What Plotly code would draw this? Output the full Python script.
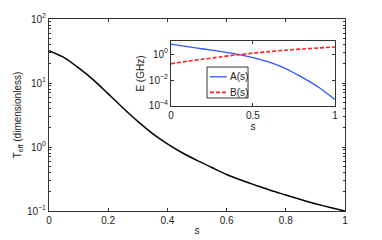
import plotly.graph_objects as go

# Main curve: effective temperature vs s
s_main = [0, 0.05, 0.1, 0.15, 0.2, 0.25, 0.3, 0.35, 0.4, 0.45, 0.5,
          0.55, 0.6, 0.65, 0.7, 0.75, 0.8, 0.85, 0.9, 0.95, 1.0]
t_eff = [32, 25.1, 17.2, 11.2, 6.76, 4.07, 2.51, 1.62, 1.12, 0.813, 0.617,
         0.479, 0.372, 0.302, 0.251, 0.209, 0.178, 0.151, 0.130, 0.1135, 0.1]

# Inset: annealing schedule
s_inset = [0, 0.1, 0.2, 0.3, 0.4, 0.5, 0.6, 0.7, 0.8, 0.9, 1.0]
a_vals = [5.9, 3.8, 2.45, 1.6, 1.0, 0.54, 0.24, 0.076, 0.016, 0.0028, 0.00032]
b_vals = [0.18, 0.28, 0.41, 0.6, 0.87, 1.17, 1.55, 2.0, 2.45, 2.95, 3.47]
legend_names = ["A(s)", "B(s)"]

main_xticks = [0, 0.2, 0.4, 0.6, 0.8, 1]
main_xlabels = ["0", "0.2", "0.4", "0.6", "0.8", "1"]
main_yticks = [0.1, 1, 10, 100]
main_ylabels = ["10<sup>\u22121</sup>", "10<sup>0</sup>", "10<sup>1</sup>", "10<sup>2</sup>"]
inset_xticks = [0, 0.5, 1]
inset_xlabels = ["0", "0.5", "1"]
inset_yticks = [1e-4, 1e-2, 1]
inset_ylabels = ["10<sup>\u22124</sup>", "10<sup>\u22122</sup>", "10<sup>0</sup>"]

def minor_vals(lo, hi):
    out = []
    for e in range(lo, hi):
        for m in range(2, 10):
            out.append(m * 10 ** e)
    return out

FONT = "Liberation Sans, Arial, sans-serif"
AX = "#333333"
BLUE = "#3355ff"
RED = "#ff2222"

fig = go.Figure()
fig.add_trace(go.Scatter(x=s_main, y=t_eff, mode="lines", showlegend=False,
                         line=dict(color="black", width=1.5, shape="spline", smoothing=0.6),
                         xaxis="x", yaxis="y"))
fig.add_trace(go.Scatter(x=s_inset, y=a_vals, mode="lines", name=legend_names[0], showlegend=False,
                         line=dict(color=BLUE, width=1.3, shape="spline", smoothing=0.6),
                         xaxis="x2", yaxis="y2"))
fig.add_trace(go.Scatter(x=s_inset, y=b_vals, mode="lines", name=legend_names[1], showlegend=False,
                         line=dict(color=RED, width=1.6, dash="4px,2px", shape="spline", smoothing=0.6),
                         xaxis="x2", yaxis="y2"))

common = dict(showgrid=False, zeroline=False, showline=True, linecolor=AX, linewidth=1,
              ticks="inside", mirror="ticks", tickcolor=AX, ticklen=3, automargin=False,
              tickfont=dict(size=10, color="#222", family=FONT))

# Manual compact legend inside the inset (domain coords of inset axes)
ref = dict(xref="x2 domain", yref="y2 domain")
fig.add_shape(type="rect", x0=0.22, x1=0.47, y0=0.123, y1=0.6,
              fillcolor="white", line=dict(color=AX, width=1), layer="above", **ref)
fig.add_shape(type="line", x0=0.238, x1=0.34, y0=0.45, y1=0.45,
              line=dict(color=BLUE, width=1.3), layer="above", **ref)
fig.add_shape(type="line", x0=0.238, x1=0.34, y0=0.21, y1=0.21,
              line=dict(color=RED, width=1.6, dash="4px,2px"), layer="above", **ref)
for name, yy in zip(legend_names, [0.45, 0.21]):
    fig.add_annotation(text=name, x=0.345, y=yy, xanchor="left", yanchor="middle",
                       showarrow=False, font=dict(size=10, family=FONT, color="#222"), **ref)

fig.update_layout(
    width=374, height=232,
    margin=dict(l=41, r=37, t=11, b=29, autoexpand=False),
    paper_bgcolor="white", plot_bgcolor="white",
    font=dict(family=FONT, size=10, color="#222"),
    showlegend=False,
    xaxis=dict(domain=[0, 1], range=[0, 1], tickmode="array", tickvals=main_xticks,
               ticktext=main_xlabels,
               title=dict(text="s", font=dict(size=10), standoff=1), **common),
    yaxis=dict(domain=[0, 1], type="log", range=[-1, 2], tickmode="array",
               tickvals=main_yticks, ticktext=main_ylabels,
               minor=dict(tickmode="array", tickvals=minor_vals(-1, 2), ticks="inside",
                          ticklen=2, tickcolor=AX),
               title=dict(text="T<sub>eff</sub> (dimensionless)", font=dict(size=10), standoff=3),
               **common),
    xaxis2=dict(domain=[0.412, 0.966], anchor="y2", range=[0, 1], tickmode="array",
                tickvals=inset_xticks, ticktext=inset_xlabels,
                title=dict(text="s", font=dict(size=10), standoff=0), **common),
    yaxis2=dict(domain=[0.547, 0.885], anchor="x2", type="log", range=[-4, 1],
                tickmode="array", tickvals=inset_yticks, ticktext=inset_ylabels,
                title=dict(text="E (GHz)", font=dict(size=10), standoff=2), **common),
)

fig.write_html("out.html")
